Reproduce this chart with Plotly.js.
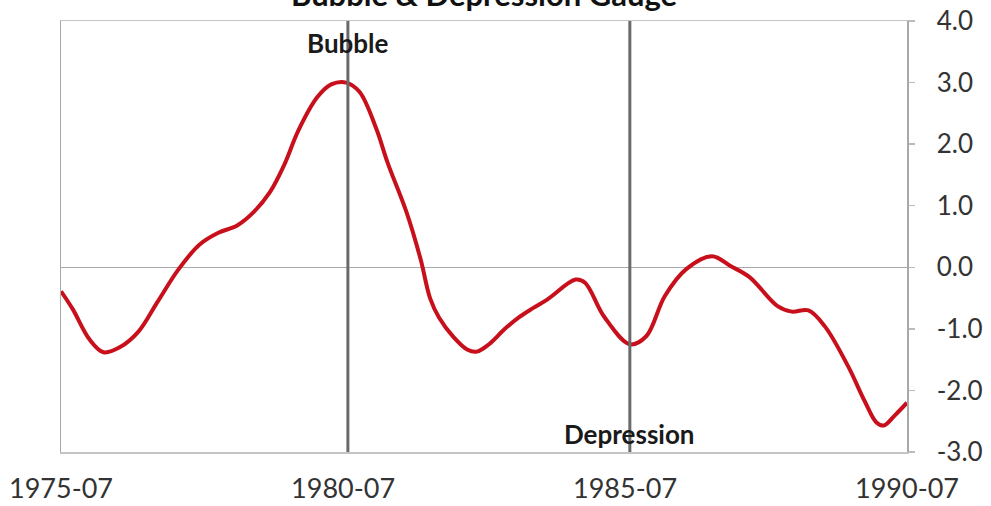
<!DOCTYPE html>
<html>
<head>
<meta charset="utf-8">
<script src="https://cdn.plot.ly/plotly-3.0.1.min.js"></script>
<style>
  html, body { margin: 0; padding: 0; background: #ffffff; }
  #chart { width: 991px; height: 506px; }
</style>
</head>
<body>
<div id="chart"></div>
<script>
// Gauge readings
const dates = [
  "1975-07-01","1975-09-15","1976-01-01","1976-04-01","1976-07-15","1976-11-15",
  "1977-03-15","1977-08-01","1977-12-15","1978-04-15","1978-08-15","1978-12-01",
  "1979-03-15","1979-06-15","1979-09-15","1980-01-15","1980-04-15","1980-07-20",
  "1980-10-15","1981-02-01","1981-04-15","1981-08-15","1981-11-15","1982-01-15",
  "1982-03-15","1982-06-15","1982-09-15","1982-11-15","1983-02-01","1983-05-15",
  "1983-08-15","1983-11-15","1984-02-15","1984-08-15","1984-10-15","1985-02-15",
  "1985-08-01","1985-11-15","1986-03-15","1986-08-01","1987-01-15","1987-05-15",
  "1987-09-15","1988-03-15","1988-06-15","1988-10-01","1989-01-15","1989-06-15",
  "1989-10-01","1989-12-15","1990-02-01","1990-04-15","1990-07-01"
];
const gauge = [
  -0.39,-0.68,-1.17,-1.38,-1.30,-1.04,
  -0.57,-0.03, 0.37, 0.56, 0.68, 0.90,
   1.22, 1.66, 2.22, 2.76, 2.97, 3.00,
   2.85, 2.25, 1.70, 0.90, 0.13,-0.50,
  -0.82,-1.13,-1.34,-1.37,-1.25,-1.00,
  -0.81,-0.66,-0.52,-0.20,-0.25,-0.80,
  -1.25,-1.12,-0.47,-0.03, 0.18, 0.02,
  -0.16,-0.63,-0.72,-0.70,-0.96,-1.61,
  -2.18,-2.52,-2.57,-2.40,-2.20
];

// Axis ticks
const xTickVals = ["1975-07-01","1980-07-01","1985-07-01","1990-07-01"];
const xTickText = ["1975-07","1980-07","1985-07","1990-07"];
const yTickVals = [-3, -2, -1, 0, 1, 2, 3, 4];
const yTickText = ["-3.0","-2.0","-1.0","0.0","1.0","2.0","3.0","4.0"];

// Marker events
const eventDates = ["1980-08-01", "1985-08-01"];
const eventLabels = ["Bubble", "Depression"];
const eventLabelY = [3.64, -2.7];

const titleText = "Bubble &amp; Depression Gauge";

const traces = [{
  x: dates,
  y: gauge,
  type: "scatter",
  mode: "lines",
  line: { color: "#c8101c", width: 4, shape: "spline", smoothing: 1 },
  hoverinfo: "x+y",
  showlegend: false
}];

const shapes = eventDates.map(d => ({
  type: "line", xref: "x", yref: "paper",
  x0: d, x1: d, y0: 0, y1: 1,
  line: { color: "#6a6a6a", width: 3 }
}));

const annotations = eventDates.map((d, i) => ({
  x: d, y: eventLabelY[i], xref: "x", yref: "y",
  text: "<b>" + eventLabels[i] + "</b>",
  showarrow: false, xanchor: "center", yanchor: "middle",
  font: { family: "Lato, 'Noto Sans', sans-serif", size: 26, color: "#1a1a1a" }
}));

annotations.push({
  x: 0.5, y: 1.014, xref: "paper", yref: "paper",
  text: "<b>" + titleText + "</b>",
  showarrow: false, xanchor: "center", yanchor: "bottom",
  font: { family: "Lato, 'Noto Sans', sans-serif", size: 31, color: "#111111" }
});

const layout = {
  width: 991, height: 506,
  margin: { l: 61, r: 84, t: 21, b: 54 },
  paper_bgcolor: "#ffffff",
  plot_bgcolor: "#ffffff",
  showlegend: false,
  xaxis: {
    type: "date",
    range: ["1975-07-01", "1990-07-01"],
    tickvals: xTickVals,
    ticktext: xTickText,
    showgrid: false,
    zeroline: false,
    showline: true, mirror: true, linecolor: "#c4c4c4", linewidth: 1.5,
    ticks: "",
    ticklabelstandoff: 12,
    tickfont: { family: "Lato, 'Noto Sans', sans-serif", size: 27, color: "#333333" }
  },
  yaxis: {
    side: "right",
    range: [-3, 4],
    tickvals: yTickVals,
    ticktext: yTickText,
    showgrid: false,
    zeroline: true, zerolinecolor: "#aaaaaa", zerolinewidth: 1.5,
    showline: true, mirror: true, linecolor: "#a8a8a8", linewidth: 1.5,
    ticks: "outside", ticklen: 6, tickcolor: "#bbbbbb", tickwidth: 1.5,
    ticklabelstandoff: 17,
    tickfont: { family: "Lato, 'Noto Sans', sans-serif", size: 26, color: "#333333" }
  },
  shapes: shapes,
  annotations: annotations
};

Plotly.newPlot("chart", traces, layout, { staticPlot: true, displayModeBar: false });
</script>
</body>
</html>
